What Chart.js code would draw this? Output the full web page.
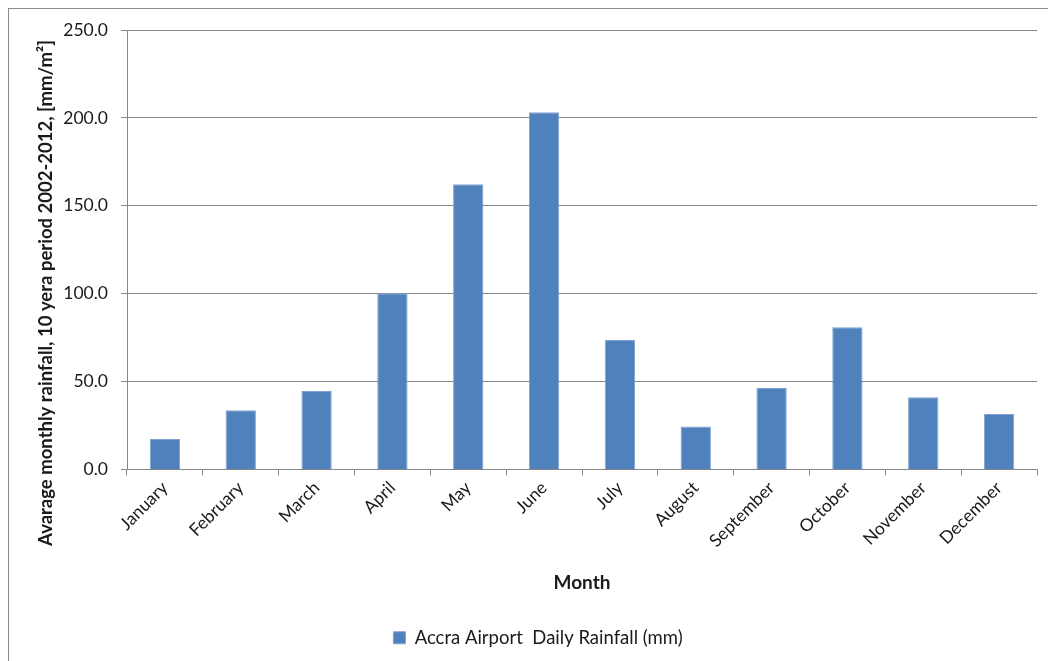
<!DOCTYPE html>
<html>
<head>
<meta charset="utf-8">
<title>Accra Airport rainfall</title>
<script src="https://cdn.jsdelivr.net/npm/chart.js@4/dist/chart.umd.min.js"></script>
<style>
    html, body { margin: 0; padding: 0; background: #fff; overflow: hidden; }
    #wrap { position: absolute; left: 0; top: 0; width: 1048px; height: 661px; }
</style>
</head>
<body>
<div id="wrap"><canvas id="rainChart"></canvas></div>
<script>
const months = ['January', 'February', 'March', 'April', 'May', 'June',
    'July', 'August', 'September', 'October', 'November', 'December'];
const rainfall = [17.4, 33.7, 44.7, 100.3, 162.3, 203.2, 73.7, 24.4, 46.4, 80.9, 41.1, 31.6];
const seriesLabel = 'Accra Airport  Daily Rainfall (mm)';
const yTitle = 'Avarage monthly rainfall, 10 yera period 2002-2012, [mm/m²]';
const xTitle = 'Month';

const FONT = 'Lato';
const GRID = '#868686';
const TEXT = '#1a1a1a';

// frame round the whole chart and the rotated y title (centred on the frame, not the plot)
const chartFrame = {
    id: 'chartFrame',
    beforeDraw(chart) {
        const ctx = chart.ctx;
        ctx.save();
        ctx.strokeStyle = '#8a8a8a';
        ctx.lineWidth = 1;
        ctx.strokeRect(8.5, 8.5, chart.width + 20, chart.height + 20);
        ctx.restore();
    },
    afterDraw(chart) {
        const ctx = chart.ctx;
        ctx.save();
        ctx.translate(46, 293);
        ctx.rotate(-Math.PI / 2);
        ctx.font = 'bold 18.5px ' + FONT;
        ctx.fillStyle = TEXT;
        ctx.textAlign = 'center';
        ctx.textBaseline = 'middle';
        ctx.fillText(yTitle, 0, 0);
        ctx.restore();
    }
};

const ctx = document.getElementById('rainChart').getContext('2d');
new Chart(ctx, {
    type: 'bar',
    data: {
        labels: months,
        datasets: [{
            label: seriesLabel,
            data: rainfall,
            backgroundColor: '#4f81bd',
            borderColor: '#7fa2d0',
            borderWidth: 1,
            categoryPercentage: 1,
            barPercentage: 0.4
        }]
    },
    options: {
        responsive: true,
        maintainAspectRatio: false,
        animation: false,
        layout: { padding: { left: 39, right: 11, top: 30, bottom: 4 } },
        plugins: {
            tooltip: { enabled: false },
            legend: {
                position: 'bottom',
                labels: {
                    boxWidth: 12,
                    boxHeight: 12,
                    padding: 10,
                    color: TEXT,
                    font: { family: FONT, size: 18.5 }
                }
            }
        },
        scales: {
            x: {
                afterFit(scale) { scale.height = 149; },
                grid: {
                    offset: true,
                    drawOnChartArea: false,
                    tickLength: 6,
                    color: GRID
                },
                border: { color: GRID },
                ticks: {
                    maxRotation: 45,
                    minRotation: 45,
                    padding: 2,
                    color: TEXT,
                    font: { family: FONT, size: 17.5 }
                },
                title: {
                    display: true,
                    text: xTitle,
                    color: TEXT,
                    font: { family: FONT, size: 19, weight: 'bold' },
                    padding: { top: 4, bottom: 24 }
                }
            },
            y: {
                min: 0,
                max: 250,
                afterFit(scale) { scale.width = 88; },
                grid: { color: GRID, tickLength: 6 },
                border: { color: GRID },
                ticks: {
                    stepSize: 50,
                    padding: 13,
                    color: TEXT,
                    font: { family: FONT, size: 17.5 },
                    callback: v => v.toFixed(1)
                }
            }
        }
    },
    plugins: [chartFrame]
});
</script>
</body>
</html>
